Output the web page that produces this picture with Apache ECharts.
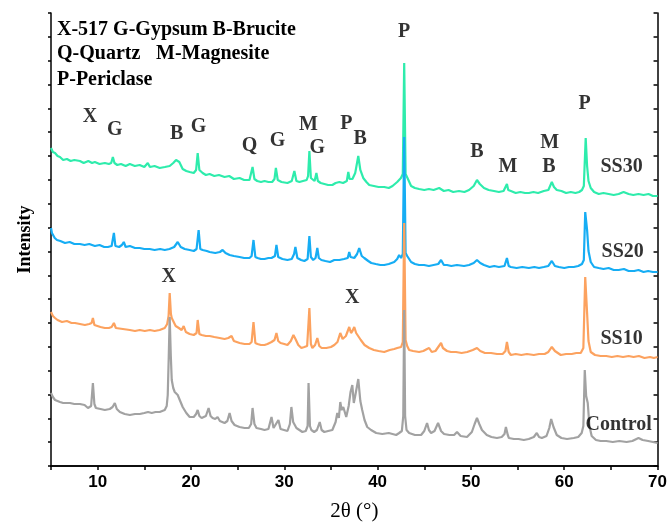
<!DOCTYPE html>
<html>
<head>
<meta charset="utf-8">
<script src="https://cdn.jsdelivr.net/npm/echarts@6/dist/echarts.min.js"></script>
<style>
  html, body { margin: 0; padding: 0; background: #fff; }
  #chart { width: 670px; height: 527px; }
</style>
</head>
<body>
<div id="chart"></div>
<script>
// XRD patterns, [2θ (°), intensity (a.u.)], each pattern stacked with its own offset
const ss30 = [
  [5.00,318],[5.2,314],[5.43,313],[5.7,310],[5.96,309],[6.3,306],[6.71,307],[7.1,305],[7.5,306],[8.1,305],
  [8.5,303],[9.0,305],[9.4,303],[9.7,304],[10.2,302],[10.77,303],[11.2,302],[11.45,303],[11.63,309],[11.8,303],
  [12.1,301],[12.5,302],[13.0,300],[13.45,302],[13.98,300],[14.5,301],[15.0,299],[15.37,303],[15.6,299],[16.1,300],
  [16.65,298],[17.2,299],[17.72,300],[18.1,303],[18.4,306],[18.55,308],[18.75,304],[19.11,297],[19.5,295],[19.86,294],
  [20.3,293],[20.55,296],[20.72,313],[20.9,296],[21.25,293],[21.6,291],[22.0,292],[22.5,290],[23.0,291],[23.6,289],
  [24.1,290],[24.6,287],[25.21,288],[25.7,286],[26.27,286],[26.45,288],[26.6,299],[26.8,287],[27.1,285],[27.5,284],
  [27.88,285],[28.3,284],[28.7,284],[28.95,287],[29.1,298],[29.3,286],[29.7,284],[30.34,283],[30.8,285],[31.08,295],
  [31.3,285],[31.62,284],[32.0,285],[32.4,286],[32.55,290],[32.69,315],[32.85,288],[33.01,286],[33.25,285],[33.44,293],
  [33.6,285],[33.9,283],[34.3,282],[34.7,281],[35.15,281],[35.5,283],[35.9,284],[36.3,283],[36.7,285],[36.86,294],
  [37.0,287],[37.3,287],[37.6,293],[37.93,310],[38.15,296],[38.46,288],[38.8,284],[39.1,281],[39.6,280],[40.1,279],
  [40.71,279],[41.2,278],[41.6,280],[42.1,284],[42.5,288],[42.7,292],[42.85,403],[43.0,292],[43.2,288],[43.59,280],
  [44.0,278],[44.45,277],[45.0,276],[45.5,277],[46.0,276],[46.6,278],[47.1,275],[47.6,276],[48.1,274],[48.72,275],
  [49.3,274],[49.8,276],[50.3,280],[50.65,286],[50.95,282],[51.4,278],[51.9,276],[52.47,275],[53.0,274],[53.5,275],
  [53.7,276],[53.86,282],[54.0,276],[54.28,275],[54.8,273],[55.3,274],[55.8,273],[56.21,273],[56.7,274],[57.2,273],
  [57.81,275],[58.3,276],[58.67,284],[58.9,279],[59.2,276],[59.7,275],[60.2,273],[60.7,274],[61.2,273],[61.6,274],
  [61.9,276],[62.1,280],[62.3,328],[62.45,300],[62.6,285],[62.84,278],[63.2,274],[63.7,272],[64.2,273],[64.76,272],
  [65.3,271],[65.83,272],[66.36,274],[66.9,272],[67.4,271],[67.96,272],[68.5,271],[69.03,272],[69.5,270],[70.0,270]
];

const ss20 = [
  [5.00,238],[5.1,233],[5.21,231],[5.4,228],[5.64,226],[6.0,225],[6.5,223],[7.0,224],[7.5,222],[8.1,222],
  [8.6,221],[9.1,222],[9.7,220],[10.2,221],[10.7,219],[11.09,219],[11.5,220],[11.74,233],[11.9,220],[12.3,219],
  [12.6,221],[12.8,224],[13.0,219],[13.45,220],[14.0,218],[14.51,218],[15.0,217],[15.58,217],[16.1,216],[16.7,217],
  [17.19,216],[17.7,217],[18.2,219],[18.58,224],[18.9,219],[19.33,217],[19.86,216],[20.3,215],[20.6,217],[20.82,236],
  [21.0,217],[21.25,216],[21.7,215],[22.0,214],[22.6,213],[23.1,214],[23.39,216],[23.7,213],[24.14,211],[24.6,210],
  [25.21,209],[25.7,208],[26.27,208],[26.5,210],[26.7,226],[26.9,209],[27.13,208],[27.5,207],[27.88,207],[28.3,208],
  [28.63,208],[29.0,210],[29.16,221],[29.35,209],[29.8,207],[30.34,206],[30.8,207],[31.05,212],[31.19,219],[31.4,208],
  [31.8,206],[32.15,205],[32.5,207],[32.69,230],[32.85,209],[33.1,206],[33.35,208],[33.54,218],[33.7,208],[33.97,206],
  [34.4,205],[34.9,204],[35.36,206],[35.9,206],[36.4,207],[36.8,208],[36.96,214],[37.1,209],[37.5,208],[37.8,212],
  [38.03,218],[38.3,210],[38.57,208],[39.0,205],[39.32,203],[39.8,202],[40.3,201],[40.71,201],[41.2,202],[41.78,204],
  [42.1,207],[42.31,211],[42.52,208],[42.7,212],[42.85,329],[43.0,213],[43.17,210],[43.59,204],[44.0,202],[44.45,201],
  [44.98,201],[45.5,200],[46.0,201],[46.5,202],[46.8,206],[47.1,201],[47.44,201],[47.9,200],[48.5,201],[49.26,200],
  [49.8,201],[50.3,203],[50.65,206],[51.0,203],[51.4,201],[52.0,199],[52.5,200],[53.0,199],[53.6,200],[53.86,208],
  [54.05,200],[54.28,199],[54.9,198],[55.5,199],[56.21,198],[56.8,199],[57.3,198],[57.81,199],[58.3,200],[58.67,205],
  [59.0,200],[59.42,199],[60.0,198],[60.5,199],[61.02,199],[61.5,200],[61.9,202],[62.1,206],[62.25,254],[62.45,236],
  [62.6,215],[62.84,204],[63.2,199],[63.69,198],[64.2,197],[64.76,198],[65.3,196],[65.83,196],[66.4,197],[66.9,195],
  [67.5,195],[67.96,196],[68.5,194],[69.0,195],[69.5,194],[70.0,194]
];

const ss10 = [
  [5.00,154],[5.2,150],[5.43,148],[5.7,146],[6.18,144],[6.7,145],[7.2,143],[7.57,143],[8.1,142],[8.63,141],
  [9.1,142],[9.35,143],[9.49,148],[9.65,141],[9.81,139],[10.3,139],[10.77,138],[11.2,138],[11.5,139],[11.74,143],
  [11.95,138],[12.16,137],[12.7,137],[13.45,136],[14.0,135],[14.51,136],[15.05,135],[15.6,136],[16.1,135],[16.65,136],
  [17.19,138],[17.45,142],[17.6,150],[17.72,173],[17.85,152],[17.94,148],[18.15,144],[18.36,140],[18.7,138],[19.0,136],
  [19.22,140],[19.45,134],[19.86,132],[20.3,131],[20.6,133],[20.72,146],[20.9,132],[21.14,131],[21.6,130],[22.0,130],
  [22.5,129],[23.07,128],[23.6,127],[24.0,128],[24.35,130],[24.6,125],[24.78,124],[25.21,123],[25.74,122],[26.27,122],
  [26.5,124],[26.7,144],[26.9,123],[27.13,122],[27.5,121],[27.88,121],[28.2,122],[28.63,124],[28.95,126],[29.16,133],
  [29.35,125],[29.6,123],[30.0,122],[30.34,121],[30.7,125],[30.98,131],[31.2,127],[31.5,121],[31.83,118],[32.15,119],
  [32.45,120],[32.69,158],[32.85,122],[33.01,118],[33.3,121],[33.54,128],[33.75,120],[34.0,118],[34.5,118],[35.0,119],
  [35.36,121],[35.7,124],[36.0,133],[36.25,127],[36.6,130],[36.96,139],[37.15,133],[37.3,135],[37.5,139],[37.7,133],
  [37.82,131],[38.2,126],[38.6,121],[39.1,118],[39.6,116],[40.1,115],[40.71,114],[41.3,116],[41.78,117],[42.1,118],
  [42.52,119],[42.7,124],[42.85,243],[43.0,126],[43.17,120],[43.38,116],[43.8,115],[44.45,114],[44.9,115],[45.3,117],
  [45.52,118],[45.8,114],[46.2,115],[46.5,119],[46.8,123],[47.0,118],[47.44,115],[47.87,114],[48.4,114],[49.0,113],
  [49.6,114],[50.2,116],[50.65,118],[51.0,115],[51.5,113],[52.15,113],[52.8,112],[53.4,112],[53.7,115],[53.86,124],
  [54.05,114],[54.28,111],[54.8,112],[55.4,111],[56.0,112],[56.74,111],[57.3,112],[57.9,112],[58.3,114],[58.67,119],
  [59.0,115],[59.63,111],[60.2,112],[60.8,112],[61.3,113],[61.77,113],[62.05,118],[62.25,189],[62.45,153],[62.6,125],
  [62.84,114],[63.3,111],[63.9,110],[64.5,110],[65.1,109],[65.7,110],[66.3,109],[66.9,110],[67.43,109],[68.0,110],
  [68.6,108],[69.2,109],[69.6,108],[70.0,109]
];

const control = [
  [5.00,73],[5.2,69],[5.43,66],[5.7,65],[5.96,64],[6.3,63],[7.03,63],[7.5,62],[8.1,62],[8.6,61],
  [8.96,58],[9.3,60],[9.49,83],[9.65,62],[9.81,58],[10.3,57],[10.77,56],[11.3,57],[11.6,59],[11.84,63],
  [12.05,57],[12.38,54],[12.9,52],[13.45,51],[14.0,52],[14.51,52],[15.0,53],[15.4,54],[15.58,56],[15.8,53],
  [16.2,54],[16.65,54],[17.19,56],[17.4,60],[17.51,71],[17.62,110],[17.72,149],[17.84,110],[17.94,86],[18.1,78],
  [18.26,74],[18.45,73],[18.58,71],[18.8,66],[19.11,59],[19.5,53],[19.86,49],[20.3,49],[20.55,52],[20.72,56],
  [20.9,50],[21.14,48],[21.6,50],[21.89,58],[22.1,50],[22.32,48],[22.6,47],[22.85,49],[23.1,45],[23.6,43],
  [23.9,45],[24.14,53],[24.35,45],[24.67,41],[25.2,39],[25.74,38],[26.2,38],[26.45,42],[26.6,58],[26.8,42],
  [27.02,38],[27.5,37],[27.88,36],[28.3,37],[28.63,49],[28.85,38],[29.05,38],[29.37,46],[29.6,37],[29.8,36],
  [30.34,35],[30.6,42],[30.76,59],[30.95,44],[31.3,38],[31.94,34],[32.3,35],[32.5,40],[32.6,83],[32.75,40],
  [32.9,36],[33.2,34],[33.5,36],[33.8,44],[34.0,36],[34.29,34],[34.7,35],[35.15,36],[35.5,44],[35.68,53],
  [35.85,48],[36.0,64],[36.15,56],[36.32,59],[36.64,49],[36.9,60],[37.1,74],[37.29,81],[37.45,63],[37.6,70],
  [37.93,87],[38.15,65],[38.35,56],[38.6,46],[38.89,39],[39.3,36],[39.85,33],[40.5,32],[41.2,33],[41.99,31],
  [42.31,33],[42.6,35],[42.75,50],[42.85,156],[42.95,50],[43.1,36],[43.38,33],[44.0,31],[44.66,31],[45.0,35],
  [45.3,43],[45.5,36],[45.73,33],[46.1,35],[46.48,43],[46.8,35],[47.12,32],[47.7,31],[48.2,31],[48.51,34],
  [48.9,30],[49.58,29],[50.1,34],[50.4,42],[50.65,48],[50.9,42],[51.18,36],[51.7,31],[52.2,29],[52.79,28],
  [53.3,29],[53.6,32],[53.75,39],[53.95,31],[54.07,28],[54.6,27],[55.1,27],[55.67,26],[56.2,27],[56.74,29],
  [57.06,33],[57.3,29],[57.6,28],[58.1,30],[58.4,38],[58.6,47],[58.85,39],[59.2,31],[59.7,28],[60.3,27],
  [61.02,28],[61.5,29],[61.87,33],[62.05,40],[62.2,96],[62.35,70],[62.52,63],[62.7,40],[62.94,30],[63.4,26],
  [63.9,25],[64.5,25],[65.2,24],[65.9,25],[66.68,24],[67.3,25],[67.96,28],[68.4,26],[69.0,25],[69.5,24],[70.0,23]
];

// phase markers and pattern names: [text, 2θ, intensity]
const peakLabels = [
  ['X', 9.17, 349], ['G', 11.84, 336], ['B', 18.47, 332], ['G', 20.82, 339],
  ['Q', 26.27, 320], ['G', 29.27, 325], ['M', 32.58, 341], ['G', 33.54, 318],
  ['P', 36.64, 342], ['B', 38.14, 327], ['P', 42.85, 434], ['B', 50.65, 314],
  ['M', 53.96, 299], ['M', 58.45, 323], ['B', 58.35, 299], ['P', 62.19, 362],
  ['X', 17.61, 189], ['X', 37.29, 168]
];
const sampleLabels = [
  ['SS30', 66.15, 299], ['SS20', 66.26, 214], ['SS10', 66.15, 127], ['Control', 65.83, 41]
];

// phase key in the upper-left corner
const phaseKey = [
  ['X-517 G-Gypsum B-Brucite', 57, 30],
  ['Q-Quartz', 57, 54],
  ['M-Magnesite', 156, 54],
  ['P-Periclase', 57, 80]
];

const seriesNames = ['SS30', 'SS20', 'SS10', 'Control'];
const seriesColors = ['#2EECAC', '#16ADF4', '#FCA25F', '#A2A2A2'];
const seriesData = [ss30, ss20, ss10, control];

const X_MIN = 5, X_MAX = 70, X_STEP = 5;
const Y_STEP = 23.842, Y_MAX = 23.842 * 19;

const serif = '"Liberation Serif", "Times New Roman", serif';
const sans = '"Liberation Sans", Arial, sans-serif';

const chart = echarts.init(document.getElementById('chart'), null, { renderer: 'canvas' });

const lineSeries = seriesData.map((d, i) => ({
  name: seriesNames[i],
  type: 'line',
  data: d,
  showSymbol: false,
  symbol: 'none',
  lineStyle: { color: seriesColors[i], width: 2.2 },
  itemStyle: { color: seriesColors[i] },
  z: 2 + i,
  silent: true
}));

function textSeries(list, z) {
  return {
    type: 'scatter',
    data: list.map(d => ({ value: [d[1], d[2]], label: { formatter: d[0] } })),
    symbolSize: 1,
    itemStyle: { color: 'rgba(0,0,0,0)' },
    label: {
      show: true,
      position: 'inside',
      color: '#000',
      fontFamily: serif,
      fontWeight: 'bold',
      fontSize: 20
    },
    z: z,
    silent: true
  };
}

const axisLineStyle = { color: '#000', width: 1.5 };

chart.setOption({
  animation: false,
  backgroundColor: '#fff',
  grid: { left: 51, right: 11, top: 13, bottom: 61, containLabel: false },
  xAxis: [
    {
      type: 'value', min: X_MIN, max: X_MAX, interval: X_STEP, position: 'bottom',
      name: '2θ (°)', nameLocation: 'middle', nameGap: 35,
      nameTextStyle: { fontFamily: serif, fontSize: 21, color: '#000' },
      axisLine: { show: true, lineStyle: axisLineStyle },
      axisTick: { show: true, inside: false, length: 4, lineStyle: axisLineStyle },
      axisLabel: {
        margin: 8, color: '#000', fontFamily: sans, fontWeight: 'bold', fontSize: 17,
        formatter: v => (v % 10 === 0 ? String(v) : '')
      },
      splitLine: { show: false }
    },
    {
      type: 'value', min: X_MIN, max: X_MAX, interval: X_STEP, position: 'top',
      axisLine: { show: true, lineStyle: axisLineStyle },
      axisTick: { show: true, inside: true, length: 3, lineStyle: axisLineStyle },
      axisLabel: { show: false },
      splitLine: { show: false }
    }
  ],
  yAxis: [
    {
      type: 'value', min: 0, max: Y_MAX, interval: Y_STEP, position: 'left',
      name: 'Intensity', nameLocation: 'middle', nameGap: 17,
      nameTextStyle: { fontFamily: serif, fontWeight: 'bold', fontSize: 18, color: '#000' },
      axisLine: { show: true, lineStyle: axisLineStyle },
      axisTick: { show: true, inside: false, length: 3, lineStyle: axisLineStyle },
      axisLabel: { show: false },
      splitLine: { show: false }
    },
    {
      type: 'value', min: 0, max: Y_MAX, interval: Y_STEP, position: 'right',
      axisLine: { show: true, lineStyle: axisLineStyle },
      axisTick: { show: true, inside: true, length: 4, lineStyle: axisLineStyle },
      axisLabel: { show: false },
      splitLine: { show: false }
    }
  ],
  graphic: phaseKey.map(k => ({
    type: 'text',
    x: k[1],
    y: k[2],
    style: {
      text: k[0],
      font: 'bold 20px ' + serif,
      fill: '#000',
      verticalAlign: 'middle',
      align: 'left'
    },
    z: 20
  })),
  series: [
    ...lineSeries,
    textSeries(peakLabels, 10),
    textSeries(sampleLabels, 10)
  ]
});
</script>
</body>
</html>
